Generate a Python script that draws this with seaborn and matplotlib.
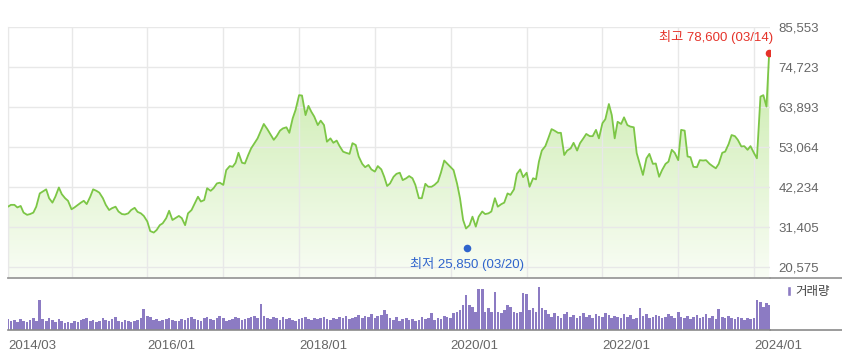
import numpy as np
import pandas as pd
import matplotlib
matplotlib.use("Agg")
import matplotlib.pyplot as plt
import matplotlib.dates as mdates
from matplotlib.colors import LinearSegmentedColormap
from matplotlib.lines import Line2D
from matplotlib.patches import Patch
import seaborn as sns

# semi-monthly closing price (thousand won), 2014/03 .. 2024/03/14
price_k = [
    36.9, 37.4, 37.4, 36.7, 37.1, 35.3, 34.7, 34.9, 35.3, 36.9,
    40.5, 41.0, 41.6, 39.2, 38.0, 39.6, 42.1, 40.3, 39.2, 38.5,
    36.2, 36.7, 37.4, 38.0, 38.5, 37.6, 39.6, 41.6, 41.2, 40.7,
    39.2, 37.4, 36.0, 36.5, 36.9, 35.6, 34.9, 34.8, 35.1, 36.0,
    36.6,
    35.5, 35.1, 34.4, 32.9, 30.3, 29.9, 30.6, 31.9, 32.4,
    33.8, 35.8, 33.3, 33.8, 34.4, 33.8, 31.9, 35.1, 36.0, 37.6,
    39.6, 38.3, 38.7, 41.9, 41.2, 41.9, 43.2, 43.4, 42.8, 46.8,
    47.9, 47.7, 48.8, 51.5, 48.8, 48.6, 50.9, 52.7, 54.2, 55.4,
    57.5, 59.3, 57.9, 56.6, 55.0, 56.0, 57.5, 58.1, 58.4, 56.9,
    60.8, 63.1, 67.1, 67.0, 61.7, 64.2, 62.6, 61.3, 59.0, 60.2,
    59.0, 54.5, 55.4, 54.2, 54.8, 53.3, 51.8, 51.5, 51.2, 54.1,
    53.6, 50.5, 48.5, 47.6, 48.2, 47.0, 46.4, 47.9, 47.0,
    45.0, 42.5, 43.2, 45.0, 45.8, 46.1, 44.1, 44.6, 45.2, 44.6,
    42.8, 39.2, 39.2, 43.1, 42.3, 42.3, 42.8, 43.7, 46.1, 49.4,
    48.6, 47.6, 46.8, 43.1, 39.2, 33.3, 31.0, 31.9, 34.2, 31.5,
    34.2, 35.6, 34.9, 35.1, 35.6, 39.2, 36.9, 37.6, 38.0, 40.5,
    40.1, 41.6, 45.8, 47.0, 44.9, 46.1, 42.3, 44.6, 44.3, 49.1,
    52.1, 53.3, 55.4, 57.9, 57.5, 56.9, 56.9, 50.9, 52.1, 52.7,
    54.2, 52.1, 54.1, 55.4, 56.6, 56.0, 56.0, 57.7, 55.4, 59.5,
    60.6, 64.7, 61.7, 55.4, 59.9, 59.3, 61.1, 59.0, 58.6,
    58.4, 51.4, 48.2, 45.5, 50.0, 51.2, 48.5, 48.6, 45.0, 46.8,
    48.5, 49.1, 52.3, 51.5, 49.5, 57.7, 57.5, 50.5, 50.3, 47.7,
    47.6, 49.5, 49.4, 49.5, 48.5, 47.9, 47.3, 48.5, 51.5, 51.8,
    53.9, 56.3, 56.0, 55.0, 53.2, 53.3, 52.3, 53.3, 51.4, 50.0,
    66.7, 67.1, 64.0,
    78.6,
]

# relative traded volume per period
volume = [
    11, 9, 10, 8, 11, 9, 8, 10, 12, 9,
    30, 11, 9, 12, 10, 8, 11, 9, 7, 8,
    7, 9, 8, 10, 11, 12, 9, 10, 8, 9,
    12, 10, 9, 11, 13, 9, 8, 10, 9, 8,
    9, 10, 12, 21, 14, 13, 10, 11, 9, 10,
    11, 12, 10, 9, 9, 11, 10, 12, 13, 11,
    10, 9, 12, 13, 11, 10, 12, 14, 12, 9,
    10, 11, 13, 12, 10, 11, 12, 13, 14, 12,
    26, 14, 12, 11, 13, 12, 10, 13, 11, 12,
    10, 9, 11, 12, 13, 11, 10, 12, 11, 12,
    13, 11, 10, 12, 11, 13, 12, 14, 11, 12,
    13, 15, 12, 14, 13, 16, 12, 14, 15, 20,
    16, 12, 10, 13, 9, 11, 12, 10, 11, 9,
    10, 13, 11, 12, 17, 10, 12, 11, 14, 13,
    12, 17, 18, 20, 25, 35, 25, 23, 18, 41,
    41, 18, 22, 18, 38, 18, 17, 20, 25, 23,
    18, 17, 18, 37, 36, 20, 22, 18, 43, 22,
    20, 16, 13, 17, 14, 12, 16, 18, 13, 15,
    12, 14, 17, 13, 15, 12, 16, 14, 13, 17,
    15, 12, 14, 13, 12, 16, 13, 15, 11, 12,
    22, 14, 16, 12, 13, 15, 14, 12, 13, 16,
    14, 12, 18, 13, 12, 14, 11, 13, 15, 12,
    13, 16, 12, 14, 11, 21, 13, 12, 14, 12,
    11, 13, 12, 10, 12, 11, 12, 30, 28, 23,
    27, 25,
]

dates = list(pd.date_range("2014-03-01", "2024-03-01", freq="SMS")) + [pd.Timestamp("2024-03-14")]

yticks = [20575, 31405, 42234, 53064, 63893, 74723, 85553]
tick_dates = [pd.Timestamp("2014-03-01")] + [pd.Timestamp(f"{y}-01-01") for y in range(2015, 2025)]
tick_labels = {"2014-03-01": "2014/03", "2016-01-01": "2016/01", "2018-01-01": "2018/01",
               "2020-01-01": "2020/01", "2022-01-01": "2022/01", "2024-01-01": "2024/01"}

hi_date, hi_val = pd.Timestamp("2024-03-14"), 78600
lo_date, lo_val = pd.Timestamp("2020-03-20"), 25850

df = pd.DataFrame({"date": dates, "price": np.array(price_k) * 1000, "volume": volume})

sns.set_style("white")
plt.rcParams["font.family"] = ["Liberation Sans", "Noto Sans CJK KR"]

W, H = 842, 359
fig = plt.figure(figsize=(W / 100, H / 100), dpi=100)
L, R = 8, 770
ax = fig.add_axes([L / W, 1 - 278 / H, (R - L) / W, (278 - 27) / H])
axv = fig.add_axes([L / W, 1 - 330 / H, (R - L) / W, (330 - 283) / H])

xlim = (pd.Timestamp("2014-03-01"), pd.Timestamp("2024-03-18"))
ylo, yhi = 17597, 85553

line_col = "#7cc646"
sns.lineplot(data=df, x="date", y="price", ax=ax, color=line_col, linewidth=1.3, zorder=3)

# gradient fill under the line
cmap = LinearSegmentedColormap.from_list("g", ["#f9fdf5", "#c4e9a3"])
grad = np.linspace(0, 1, 256).reshape(-1, 1)
x0, x1 = mdates.date2num(xlim[0]), mdates.date2num(xlim[1])
im = ax.imshow(grad, cmap=cmap, origin="lower", aspect="auto",
               extent=[x0, x1, ylo, yhi], zorder=0.4)
fill = ax.fill_between(df["date"], df["price"], ylo, facecolor="none", edgecolor="none")
im.set_clip_path(fill.get_paths()[0], transform=ax.transData)

ax.scatter([hi_date], [hi_val], s=30, color="#e5332a", zorder=4, linewidths=0)
ax.scatter([lo_date], [lo_val], s=30, color="#2f64cc", zorder=4, linewidths=0)
ax.annotate("최고 78,600 (03/14)", (hi_date, hi_val), xytext=(3, 11.5), textcoords="offset points",
            ha="right", va="center", color="#e5332a", fontsize=9.5, annotation_clip=False)
ax.annotate("최저 25,850 (03/20)", (lo_date, lo_val), xytext=(0, -12), textcoords="offset points",
            ha="center", va="center", color="#2f64cc", fontsize=9.5, annotation_clip=False)

ax.set_xlim(xlim)
ax.set_ylim(ylo, yhi)
ax.set_yticks(yticks)
ax.set_yticklabels([f"{v:,}" for v in yticks])
ax.yaxis.tick_right()
ax.tick_params(axis="y", length=0, pad=6, labelsize=9.5, labelcolor="#666666")
ax.set_xticks(tick_dates)
ax.tick_params(axis="x", length=0, labelbottom=False)
ax.grid(True, color="#e8e8e8", linewidth=1)
ax.set_axisbelow(True)
ax.set_xlabel("")
ax.set_ylabel("")
for s in ["top", "right"]:
    ax.spines[s].set_visible(False)
ax.spines["left"].set_color("#e8e8e8")
ax.spines["bottom"].set_color("#9a9a9a")
ax.spines["bottom"].set_linewidth(1.3)

# volume panel
bar_col = "#8c7bc3"
axv.bar(df["date"], df["volume"], width=12.5, color=bar_col, linewidth=0)
axv.set_xlim(xlim)
axv.set_ylim(0, 47)
axv.set_yticks([])
axv.set_xticks(tick_dates)
axv.set_xticklabels([tick_labels.get(d.strftime("%Y-%m-%d"), "") for d in tick_dates])
for lab in axv.get_xticklabels():
    lab.set_horizontalalignment("left")
axv.tick_params(axis="x", length=4, color="#999999", labelsize=9.5, labelcolor="#666666", pad=3)
for s in ["top", "right", "left"]:
    axv.spines[s].set_visible(False)
axv.spines["bottom"].set_color("#8a8a8a")
axv.spines["bottom"].set_linewidth(1.2)
axv.legend(handles=[Patch(facecolor=bar_col, label="거래량")], loc="upper left",
           bbox_to_anchor=(787 / W, 1 - 286 / H), bbox_transform=fig.transFigure,
           frameon=False, handlelength=0.35, handleheight=0.9, handletextpad=0.35,
           borderpad=0, borderaxespad=0, fontsize=9, labelcolor="#444444")

# separator lines running to the right edge
fig.add_artist(Line2D([R / W, 1], [1 - 278 / H] * 2, transform=fig.transFigure, color="#9a9a9a", lw=1.3))
fig.add_artist(Line2D([R / W, 1], [1 - 330 / H] * 2, transform=fig.transFigure, color="#8a8a8a", lw=1.2))

fig.savefig("out.png", dpi=100, facecolor="white")
